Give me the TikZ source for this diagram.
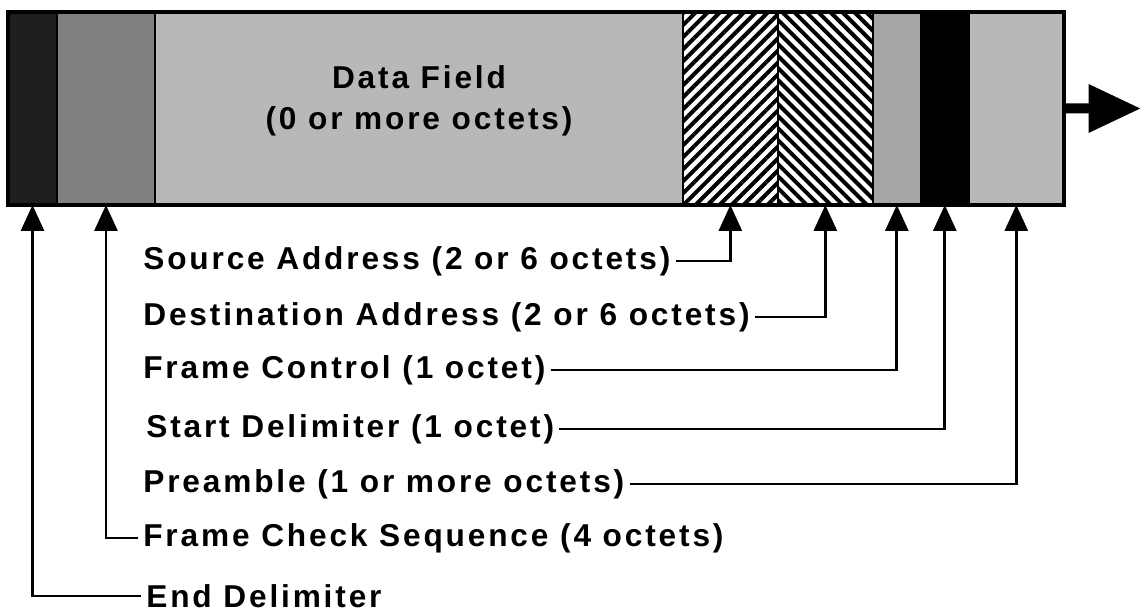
\documentclass[tikz,border=0pt]{standalone}
\usepackage{fontspec}
\newfontfamily\lblfont[LetterSpace=9]{Liberation Sans}
\usetikzlibrary{arrows.meta, patterns.meta}

\begin{document}
\begin{tikzpicture}[
    x=0.02cm, y=-0.02cm,
    every node/.style={font=\fontsize{18}{23}\selectfont\lblfont\bfseries},
    field/.style={
        rectangle, draw=black, line width=1pt,
        anchor=north west, inner sep=0pt, outer sep=0pt,
        minimum height=3.86cm
    },
    hatch/.style={
        pattern={Lines[angle=#1, distance=0.17cm, line width=0.08cm]}
    },
    lbl/.style={anchor=west, inner xsep=0.1cm, inner ysep=0.02cm},
    uparr/.style={
        -{Triangle[length=0.52cm, width=0.46cm]},
        line width=1.6pt
    },
    outarr/.style={
        -{Triangle[length=1.05cm, width=0.92cm]},
        line width=5.7pt
    }
]
\useasboundingbox (0,0) rectangle (1143,612);

%% ── Frame fields ────────────────────────────────────────────────────
\node[field, fill=black!88, minimum width=0.98cm] (ed)  at (8,12) {};
\node[field, fill=black!50, minimum width=1.96cm] (fcs) at (ed.north east) {};
\node[field, fill=black!28, minimum width=10.56cm] (df) at (fcs.north east) {};
\node[field, hatch=45,  minimum width=1.9cm] (sa) at (df.north east) {};
\node[field, hatch=-45, minimum width=1.9cm] (da) at (sa.north east) {};
\node[field, fill=black!35, minimum width=0.96cm] (fc) at (da.north east) {};
\node[field, fill=black,    minimum width=0.96cm] (sd) at (fc.north east) {};
\node[field, fill=black!28, minimum width=1.9cm]  (pa) at (sd.north east) {};

\draw[line width=2pt] (ed.north west) rectangle (pa.south east);

\node[align=center] (dft) at (419,101) {Data Field\\(0 or more octets)};

%% ── Outgoing arrow ──────────────────────────────────────────────────
\coordinate (tip) at (1141,108.5);
\draw[outarr] (pa.east) -- (tip);

%% ── Field labels ────────────────────────────────────────────────────
\node[lbl] (sal)  at (138,261) {Source Address (2 or 6 octets)};
\node[lbl] (dal)  at (138,317) {Destination Address (2 or 6 octets)};
\node[lbl] (fcl)  at (138,370) {Frame Control (1 octet)};
\node[lbl] (sdl)  at (141,429) {Start Delimiter (1 octet)};
\node[lbl] (pal)  at (138,484) {Preamble (1 or more octets)};
\node[lbl] (fcsl) at (138,538) {Frame Check Sequence (4 octets)};
\node[lbl] (edl)  at (141,596) {End Delimiter};

\draw[uparr] (sal.east) -| (sa.south);
\draw[uparr] (dal.east) -| (da.south);
\draw[uparr] (fcl.east) -| (fc.south);
\draw[uparr] (sdl.east) -| (sd.south);
\draw[uparr] (pal.east) -| (pa.south);
\draw[uparr] (fcsl.west) -| (fcs.south);
\draw[uparr] (edl.west) -| (ed.south);

\end{tikzpicture}
\end{document}
